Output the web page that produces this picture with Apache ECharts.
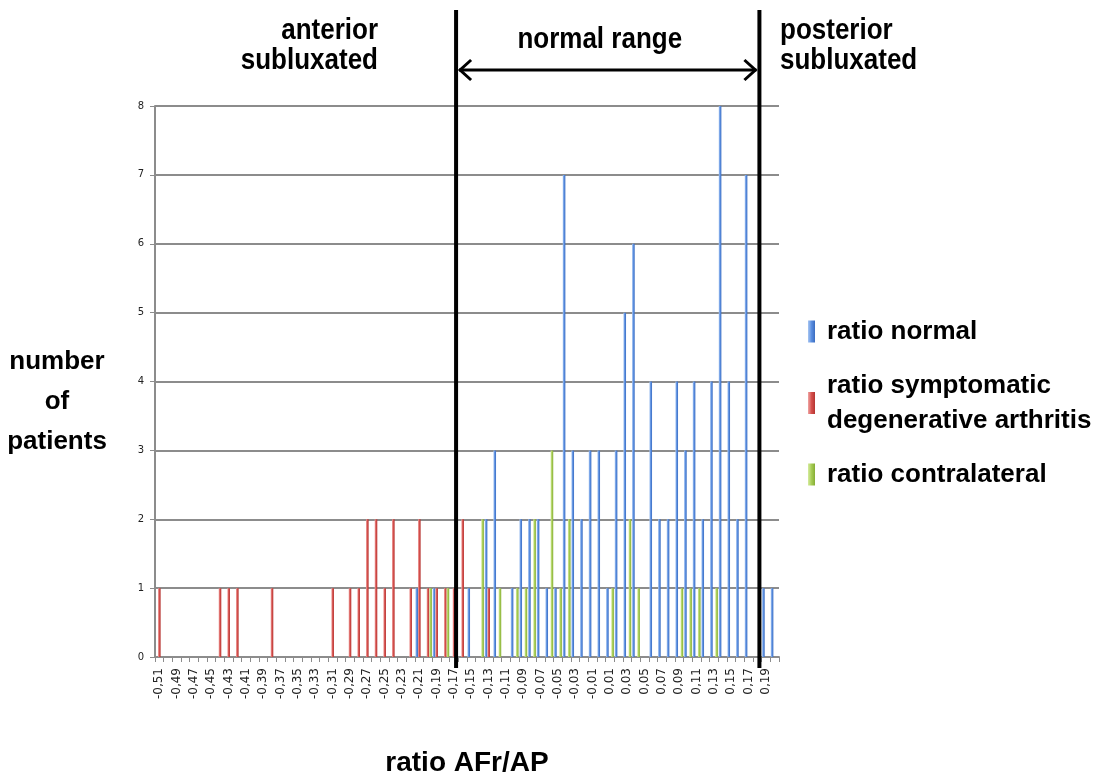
<!DOCTYPE html>
<html>
<head>
<meta charset="utf-8">
<script src="https://cdn.jsdelivr.net/npm/echarts@6/dist/echarts.min.js"></script>
<style>
html,body{margin:0;padding:0;background:#fff;}
#chart{width:1095px;height:778px;}
</style>
</head>
<body>
<div id="chart"></div>
<script>
const categories = [
 "-0,51","-0,50","-0,49","-0,48","-0,47","-0,46","-0,45","-0,44","-0,43","-0,42",
 "-0,41","-0,40","-0,39","-0,38","-0,37","-0,36","-0,35","-0,34","-0,33","-0,32",
 "-0,31","-0,30","-0,29","-0,28","-0,27","-0,26","-0,25","-0,24","-0,23","-0,22",
 "-0,21","-0,20","-0,19","-0,18","-0,17","-0,16","-0,15","-0,14","-0,13","-0,12",
 "-0,11","-0,10","-0,09","-0,08","-0,07","-0,06","-0,05","-0,04","-0,03","-0,02",
 "-0,01","0,00","0,01","0,02","0,03","0,04","0,05","0,06","0,07","0,08",
 "0,09","0,10","0,11","0,12","0,13","0,14","0,15","0,16","0,17","0,18",
 "0,19","0,20"
];
const ratioNormal = [
 0,0,0,0,0,0,0,0,0,0,
 0,0,0,0,0,0,0,0,0,0,
 0,0,0,0,0,0,0,0,0,0,
 1,0,1,0,0,0,1,0,2,3,
 0,1,2,2,2,1,1,7,3,2,
 3,3,1,3,5,6,0,4,2,2,
 4,3,4,2,4,8,4,2,7,0,
 1,1
];
const ratioSymptomatic = [
 1,0,0,0,0,0,0,1,1,1,
 0,0,0,1,0,0,0,0,0,0,
 1,0,1,1,2,2,1,2,0,1,
 2,1,1,1,1,2,0,0,1,0,
 0,0,0,0,0,0,0,0,0,0,
 0,0,0,0,0,0,0,0,0,0,
 0,0,0,0,0,0,0,0,0,0,
 0,0
];
const ratioContralateral = [
 0,0,0,0,0,0,0,0,0,0,
 0,0,0,0,0,0,0,0,0,0,
 0,0,0,0,0,0,0,0,0,0,
 0,1,0,1,0,0,0,2,0,1,
 0,1,1,2,0,3,1,2,0,0,
 0,0,1,0,2,1,0,0,0,0,
 1,1,1,0,1,0,0,0,0,0,
 0,0
];
const yTicks = [0,1,2,3,4,5,6,7,8];
const seriesNames = ["ratio normal", "ratio symptomatic\ndegenerative arthritis", "ratio contralateral"];
const boundaryLeft = "-0,17";
const boundaryRight = "0,18";

const FONT = "'Liberation Sans',Arial,sans-serif";
const TICKFONT = "'DejaVu Sans',Verdana,sans-serif";

function grad(light, mid, dark){
  return new echarts.graphic.LinearGradient(0,0,1,0,[
    {offset:0,color:light},{offset:0.5,color:mid},{offset:1,color:dark}
  ]);
}

const chart = echarts.init(document.getElementById('chart'), null, {renderer:'canvas'});

const option = {
  animation:false,
  backgroundColor:'#fff',
  grid:{left:155, right:316, top:106, bottom:121, outerBoundsMode:'none', containLabel:false},
  legend:{
    orient:'vertical',
    left:803, top:309,
    itemWidth:7, itemHeight:22, itemGap:19,
    icon:'rect',
    textStyle:{fontFamily:FONT, fontWeight:'bold', fontSize:26, color:'#000', lineHeight:35, padding:[0,0,0,7]},
    data:seriesNames
  },
  xAxis:{
    type:'category',
    data:categories,
    boundaryGap:true,
    name:'ratio AFr/AP',
    nameLocation:'middle',
    nameGap:92,
    nameTextStyle:{fontFamily:FONT, fontWeight:'bold', fontSize:28, color:'#000'},
    axisLine:{lineStyle:{color:'#8c8c8c', width:2}},
    axisTick:{show:true, interval:0, length:5, lineStyle:{color:'#8c8c8c', width:1}},
    axisLabel:{interval:1, rotate:90, fontSize:12, color:'#222', margin:11, fontFamily:TICKFONT}
  },
  yAxis:{
    type:'value',
    min:0, max:8, interval:1,
    name:'\nnumber\nof\npatients',
    nameLocation:'middle',
    nameRotate:0,
    nameGap:98,
    nameTextStyle:{fontFamily:FONT, fontWeight:'bold', fontSize:26, color:'#000', align:'center', lineHeight:40},
    axisLine:{show:true, lineStyle:{color:'#8c8c8c', width:2}},
    axisTick:{show:true, length:5, lineStyle:{color:'#8c8c8c'}},
    axisLabel:{fontSize:10, color:'#222', margin:11, fontFamily:TICKFONT,
      formatter:function(v){ return yTicks.indexOf(v) >= 0 ? String(v) : ''; }},
    splitLine:{show:true, lineStyle:{color:'#8c8c8c', width:2}}
  },
  series:[
    {name:seriesNames[0], type:'bar', data:ratioNormal, barWidth:2.6, barGap:'0%',
     itemStyle:{color:grad('#a8c6f2','#5a8ee0','#3a6cc0')}},
    {name:seriesNames[1], type:'bar', data:ratioSymptomatic, barWidth:2.6, barGap:'0%',
     itemStyle:{color:grad('#f0a6a4','#d5504d','#b53431')}},
    {name:seriesNames[2], type:'bar', data:ratioContralateral, barWidth:2.6, barGap:'0%',
     itemStyle:{color:grad('#d6ec9e','#a6cc55','#86ad34')}}
  ]
};
chart.setOption(option);

// annotation overlay computed from axis positions
const xl = chart.convertToPixel({xAxisIndex:0}, boundaryLeft);
const xr = chart.convertToPixel({xAxisIndex:0}, boundaryRight);
const bw = chart.convertToPixel({xAxisIndex:0}, categories[1]) - chart.convertToPixel({xAxisIndex:0}, categories[0]);
const L = xl + bw*0.24, R = xr + bw*0.24;
const yTop = 10, yBot = 668, yArrow = 70, head = 12;
const mid = (L+R)/2;
chart.setOption({
  graphic:[
    {type:'line', shape:{x1:L,y1:yTop,x2:L,y2:yBot}, style:{stroke:'#000', lineWidth:4}, z:100},
    {type:'line', shape:{x1:R,y1:yTop,x2:R,y2:yBot}, style:{stroke:'#000', lineWidth:4}, z:100},
    {type:'line', shape:{x1:L+3,y1:yArrow,x2:R-3,y2:yArrow}, style:{stroke:'#000', lineWidth:3}, z:100},
    {type:'polyline', shape:{points:[[L+3+head,yArrow-10],[L+4,yArrow],[L+3+head,yArrow+10]]}, style:{stroke:'#000', lineWidth:3, fill:null}, z:100},
    {type:'polyline', shape:{points:[[R-3-head,yArrow-10],[R-4,yArrow],[R-3-head,yArrow+10]]}, style:{stroke:'#000', lineWidth:3, fill:null}, z:100},
    {type:'text', x:mid-8, y:40, scaleY:1.12, style:{text:'normal range', fill:'#000', font:"bold 26px "+FONT, align:'center', verticalAlign:'middle'}, z:100},
    {type:'text', x:378, y:46, scaleY:1.12, style:{text:'anterior\nsubluxated', fill:'#000', font:"bold 26px "+FONT, align:'right', verticalAlign:'middle', lineHeight:27}, z:100},
    {type:'text', x:780, y:46, scaleY:1.12, style:{text:'posterior\nsubluxated', fill:'#000', font:"bold 26px "+FONT, align:'left', verticalAlign:'middle', lineHeight:27}, z:100}
  ]
});
</script>
</body>
</html>
